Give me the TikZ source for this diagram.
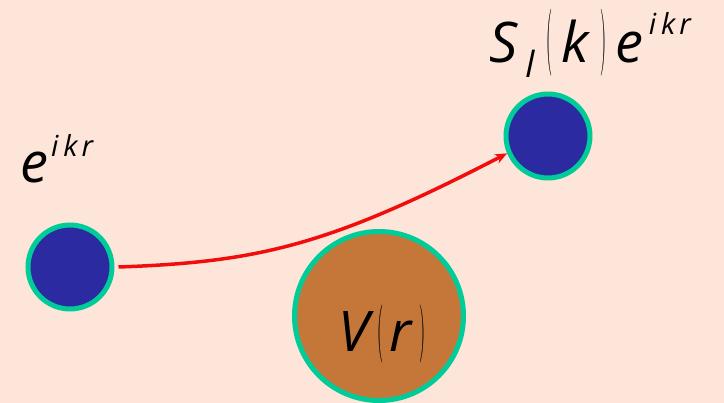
\documentclass[tikz,border=0pt]{standalone}
\usepackage{fontspec}
\setmainfont{Open Sans}
\usetikzlibrary{arrows.meta}
\definecolor{bgpeach}{HTML}{FEE5DA}
\definecolor{ballblue}{HTML}{2B2AA0}
\definecolor{rimgreen}{HTML}{00CC99}
\definecolor{potbrown}{HTML}{C47739}
\definecolor{arrowred}{HTML}{F20D0D}
\newcommand{\tallpar}[3]{\raisebox{#3}{\resizebox*{6pt}{#2}{$#1$}}}
\newcommand{\supikr}{{\fontsize{29}{29}\selectfont i\hspace{5pt}k\hspace{4pt}r}}
\tikzset{
  ball/.style={circle, draw=rimgreen, line width=5pt, fill=ballblue, inner sep=0pt, minimum size=84pt},
  pot/.style={circle, draw=rimgreen, line width=5pt, fill=potbrown, inner sep=0pt, minimum size=169pt},
  lbl/.style={anchor=base west, inner sep=0pt, font=\itshape},
  wave/.style={draw=arrowred, line width=3.5pt, -{Stealth[length=12pt,width=10pt]}}
}
\begin{document}
\begin{tikzpicture}[x=1pt,y=-1pt]
\fill[bgpeach] (0,0) rectangle (724,403);
\useasboundingbox (0,0) rectangle (724,403);
\node[ball] (lc) at (70,267) {};
\node[ball] (rc) at (548,136) {};
\node[pot] (pot) at (379,316) {};
\node[lbl] (lt) at (20,183) {{\fontsize{56}{56}\selectfont e}\hspace{3pt}\raisebox{26pt}{\supikr}};
\node[lbl] (rt) at (489,63) {{\fontsize{56}{56}\selectfont S}\hspace{8pt}\raisebox{-15pt}{\fontsize{36}{36}\selectfont l}\hspace{12pt}\tallpar{(}{67pt}{3pt}\hspace{9pt}{\fontsize{56}{56}\selectfont k}\hspace{12pt}\tallpar{)}{67pt}{3pt}\hspace{9pt}{\fontsize{56}{56}\selectfont e}\hspace{5pt}\raisebox{28pt}{\supikr}};
\node[lbl] (vt) at (338,352) {{\fontsize{56}{56}\selectfont V}\hspace{9pt}\tallpar{(}{58pt}{3.5pt}\hspace{6pt}{\fontsize{56}{56}\selectfont r}\hspace{7pt}\tallpar{)}{58pt}{3.5pt}};
\draw[wave] ([xshift=4pt]lc.east) .. controls (260,262) and (330,245) .. (rc.203);
\end{tikzpicture}
\end{document}
